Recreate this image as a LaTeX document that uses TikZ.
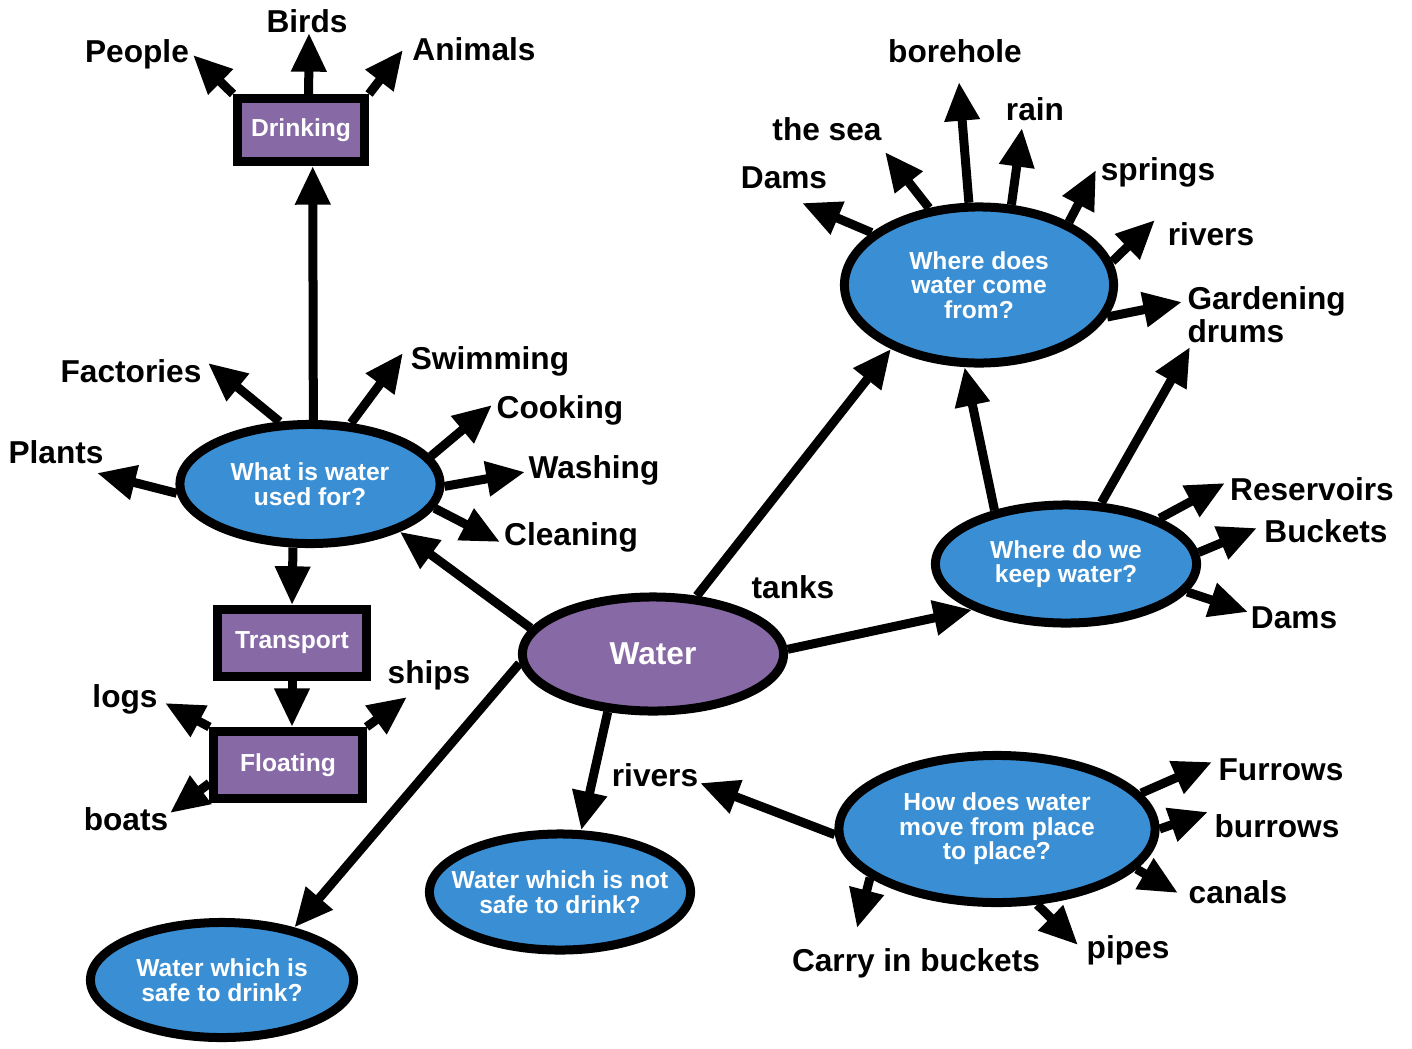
\documentclass[tikz,border=0pt]{standalone}
\usepackage{fontspec}
\setmainfont{Liberation Sans}
\usetikzlibrary{shapes.geometric,arrows.meta}
\definecolor{qpurple}{HTML}{8769A5}
\definecolor{qblue}{HTML}{3A8FD4}

\begin{document}
\begin{tikzpicture}[x=0.01cm,y=-0.01cm,line width=2.56pt,
	bubble/.style={ellipse,draw,fill=qblue,inner sep=0pt,text=white,align=center,font=\fontsize{7}{7}\selectfont\bfseries},
	box/.style={rectangle,draw,fill=qpurple,inner sep=0pt,text=white,font=\fontsize{7}{7}\selectfont\bfseries},
	lbl/.style={inner sep=0pt,anchor=base,font=\fontsize{9}{9.5}\selectfont\bfseries},
	arr/.style={-{Triangle[length=11pt,width=9.5pt]}}]
					\useasboundingbox (0,0) rectangle (1412,1048);
					\node[bubble,fill=qpurple,font=\fontsize{9}{9}\selectfont\bfseries,minimum width=2.61cm,minimum height=1.14cm] (water) at (653,654) {Water};
					\node[bubble,minimum width=2.6cm,minimum height=1.19cm] (used) at (310,484) {What is water\\used for?};
					\node[bubble,minimum width=2.69cm,minimum height=1.56cm] (from) at (979,285) {Where does\\water come\\from?};
					\node[bubble,minimum width=2.61cm,minimum height=1.18cm] (keep) at (1066,564) {Where do we\\keep water?};
					\node[bubble,minimum width=3.16cm,minimum height=1.47cm] (move) at (997,829) {How does water\\move from place\\to place?};
					\node[bubble,inner xsep=-0.2cm,minimum width=2.61cm,minimum height=1.16cm] (notsafe) at (560,892) {Water which is not\\safe to drink?};
					\node[bubble,minimum width=2.63cm,minimum height=1.15cm] (safe) at (222,980) {Water which is\\safe to drink?};
					\node[box,minimum width=1.27cm,minimum height=0.63cm] (drinking) at (301,130) {Drinking};
					\node[box,minimum width=1.48cm,minimum height=0.67cm] (transport) at (292,643) {Transport};
					\node[box,minimum width=1.48cm,minimum height=0.67cm] (floating) at (288,765) {Floating};
					\node[lbl] (people) at (137,62) {People};
					\node[lbl] (birds) at (307,32) {Birds};
					\node[lbl] (animals) at (474,60) {Animals};
					\node[lbl] (factories) at (131,382) {Factories};
					\node[lbl] (swimming) at (490,369) {Swimming};
					\node[lbl] (plants) at (56,463) {Plants};
					\node[lbl] (cooking) at (560,418) {Cooking};
					\node[lbl] (washing) at (594,478) {Washing};
					\node[lbl] (cleaning) at (571,545) {Cleaning};
					\node[lbl] (logs) at (125,707) {logs};
					\node[lbl] (ships) at (429,683) {ships};
					\node[lbl] (boats) at (126,830) {boats};
					\node[lbl] (borehole) at (955,62) {borehole};
					\node[lbl] (sea) at (827,140) {the sea};
					\node[lbl] (rain) at (1035,120) {rain};
					\node[lbl] (damsA) at (784,188) {Dams};
					\node[lbl] (springs) at (1158,180) {springs};
					\node[lbl] (riversA) at (1211,245) {rivers};
					\node[lbl,anchor=north west,align=left] (drums) at (1183,282) {Gardening\\drums};
					\node[lbl] (reservoirs) at (1312,500) {Reservoirs};
					\node[lbl] (buckets) at (1326,542) {Buckets};
					\node[lbl] (damsB) at (1294,628) {Dams};
					\node[lbl] (tanks) at (793,598) {tanks};
					\node[lbl] (riversB) at (655,786) {rivers};
					\node[lbl] (furrows) at (1281,780) {Furrows};
					\node[lbl] (burrows) at (1277,837) {burrows};
					\node[lbl] (canals) at (1238,903) {canals};
					\node[lbl] (carry) at (916,971) {Carry in buckets};
					\node[lbl] (pipes) at (1128,958) {pipes};
					\foreach \n/\x/\y in {tPeople/193/55,tBirds/309/33,tAnimals/403/50,tFactories/208/363,tSwimming/403/353,tPlants/97/473,tCooking/492/405,tWashing/525/472,tCleaning/500/542,tLogs/165/703,tShips/407/697,tBoats/170/813,tDamsA/802/203,tSea/885/152,tBorehole/959/82,tRain/1022/128,tSprings/1096/170,tRiversA/1155/220,tGardening/1182/302,tDrums/1190/347,tReservoirs/1225/483,tBuckets/1257/528,tDamsB/1248/612,tRiversB/700/783,tFurrows/1212/762,tBurrows/1208/812,tCanals/1178/893,tCarry/857/928,tPipes/1078/945}
						\coordinate (\n) at (\x,\y);
					\draw[arr] (drinking.north west) -- (tPeople);
					\draw[arr] (drinking.78) -- (tBirds);
					\draw[arr] (drinking.north east) -- (tAnimals);
					\draw[arr] (used.87) -- (drinking.-72);
					\foreach \a/\t in {116/tFactories,56/tSwimming,184/tPlants,13/tCooking,-1/tWashing,-11/tCleaning}
						\draw[arr] (used.\a) -- (\t);
					\draw[arr] (used.255) -- (transport.north);
					\draw[arr] (transport.south) -- (transport.south |- floating.north);
					\draw[arr] (floating.north west) -- (tLogs);
					\draw[arr] (floating.north east) -- (tShips);
					\draw[arr] (floating.193) -- (tBoats);
					\draw[arr] (water.168) -- (used.-28);
					\draw[arr] (water.53) -- (from.216);
					\draw[arr] (water.2) -- (keep.206);
					\draw[arr] (water.232) -- (notsafe.71);
					\draw[arr] (water.184) -- (safe.36);
					\foreach \a/\t in {154/tDamsA,123/tSea,97/tBorehole,68/tRain,35/tSprings,10/tRiversA,-14/tGardening}
						\draw[arr] (from.\a) -- (\t);
					\draw[arr] (keep.143) -- (from.260);
					\foreach \a/\t in {60/tDrums,26/tReservoirs,5/tBuckets,-13/tDamsB}
						\draw[arr] (keep.\a) -- (\t);
					\foreach \a/\t in {182/tRiversB,14/tFurrows,0/tBurrows,-16/tCanals,201/tCarry,-62/tPipes}
						\draw[arr] (move.\a) -- (\t);
				\end{tikzpicture}
\end{document}
